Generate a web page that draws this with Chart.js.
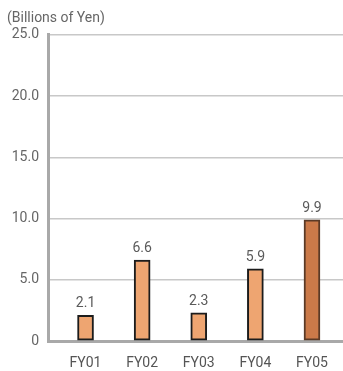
<!DOCTYPE html>
<html>
<head>
<meta charset="utf-8">
<script src="https://cdn.jsdelivr.net/npm/chart.js@4"></script>
<style>
  html, body { margin: 0; padding: 0; background: #fff; }
  #wrap { width: 343px; height: 371px; }
</style>
</head>
<body>
<div id="wrap"><canvas id="chart"></canvas></div>
<script>
const categories = ['FY01', 'FY02', 'FY03', 'FY04', 'FY05'];
const values = [2.1, 6.6, 2.3, 5.9, 9.9];
const yTicks = [0, 5, 10, 15, 20, 25];

const fillColors = ['#eea571', '#eea571', '#eea571', '#eea571', '#cb7a49'];
const edgeColors = ['#1c1c1c', '#1c1c1c', '#1c1c1c', '#1c1c1c', '#5a3a26'];

// value labels above each bar
const valueLabels = {
    id: 'valueLabels',
    afterDatasetsDraw(chart) {
        const ctx = chart.ctx;
        const meta = chart.getDatasetMeta(0);
        ctx.save();
        ctx.font = '14px Roboto';
        ctx.fillStyle = '#5a5a5a';
        ctx.textAlign = 'center';
        ctx.textBaseline = 'alphabetic';
        meta.data.forEach((bar, i) => {
            ctx.fillText(values[i].toFixed(1), bar.x, bar.y - 8);
        });
        ctx.restore();
    }
};

new Chart(document.getElementById('chart'), {
    type: 'bar',
    data: {
        datasets: [{
            data: values.map((v, i) => ({ x: i, y: v })),
            backgroundColor: fillColors,
            borderColor: edgeColors,
            borderWidth: 2,
            borderSkipped: false,
            barThickness: 16
        }]
    },
    options: {
        responsive: true,
        maintainAspectRatio: false,
        animation: false,
        layout: { padding: { left: 7, right: 0, top: 0, bottom: 0 } },
        plugins: {
            legend: { display: false },
            tooltip: { enabled: false },
            title: {
                display: true,
                text: '(Billions of Yen)',
                align: 'start',
                color: '#666',
                font: { size: 14, family: 'Roboto', weight: 'normal' },
                padding: { top: 10, bottom: 8 }
            }
        },
        scales: {
            x: {
                type: 'linear',
                offset: false,
                min: -0.663,
                max: 4.548,
                grid: { display: false, drawTicks: false },
                border: { display: true, color: '#a9a9a9', width: 3 },
                afterBuildTicks: (scale) => {
                    scale.ticks = categories.map((c, i) => ({ value: i }));
                },
                afterFit: (scale) => { scale.height = 30; },
                ticks: {
                    padding: 14,
                    color: '#555',
                    font: { size: 14, family: 'Roboto' },
                    callback: (v) => categories[v]
                }
            },
            y: {
                min: 0,
                max: 25,
                afterBuildTicks: (scale) => {
                    scale.ticks = yTicks.map(v => ({ value: v }));
                },
                afterFit: (scale) => { scale.width = 41; },
                grid: { color: '#c8c8c8', lineWidth: 1.5, drawTicks: false },
                border: { display: true, color: '#a9a9a9', width: 3 },
                ticks: {
                    padding: 9,
                    color: '#666',
                    font: { size: 14, family: 'Roboto' },
                    callback: (v) => v === 0 ? '0' : v.toFixed(1)
                }
            }
        }
    },
    plugins: [valueLabels]
});
</script>
</body>
</html>
